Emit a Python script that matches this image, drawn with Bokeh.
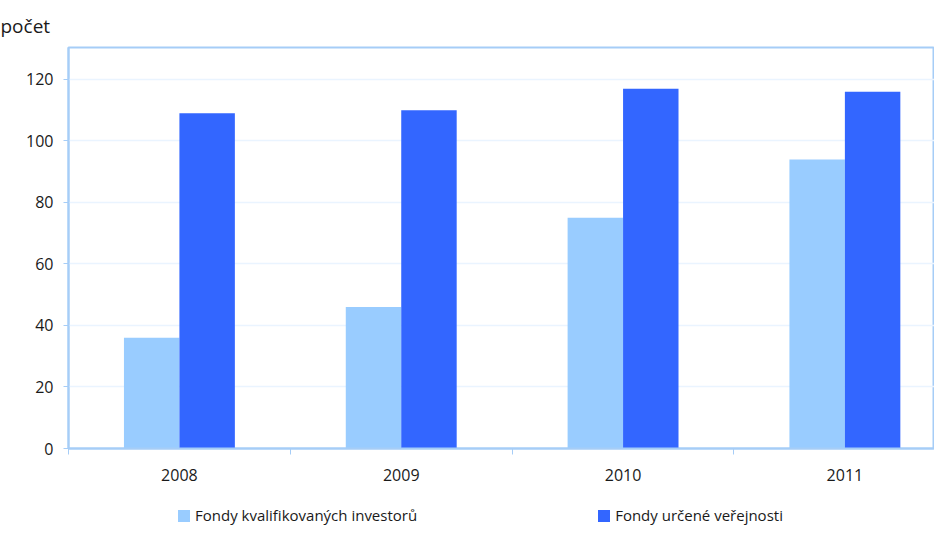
from bokeh.plotting import figure
from bokeh.layouts import column
from bokeh.models import (ColumnDataSource, Range1d, FixedTicker, Legend, LegendItem)
from bokeh.transform import dodge
from bokeh.embed import file_html
from bokeh.resources import INLINE

years = ["2008", "2009", "2010", "2011"]
kvalifikovani = [36, 46, 75, 94]
verejnost = [109, 110, 117, 116]
y_ticks = [0, 20, 40, 60, 80, 100, 120]
series_names = ["Fondy kvalifikovaných investorů", "Fondy určené veřejnosti"]
colors = ["#99ccff", "#3366ff"]

centers = [i + 0.5 for i in range(len(years))]
src = ColumnDataSource(dict(x=centers, a=kvalifikovani, b=verejnost))

FONT = "Open Sans"
AXIS_COL = "#a6cdf7"
GRID_COL = "#eaf4ff"

p = figure(width=934, height=485, output_backend="svg", toolbar_location=None,
           x_range=Range1d(0, 3.904), y_range=Range1d(0, 130.4),
           min_border_left=68, min_border_right=0, min_border_top=47,
           min_border_bottom=37)

p.vbar(x=dodge("x", -0.125), top="a", width=0.25, source=src,
       fill_color=colors[0], line_color=None)
p.vbar(x=dodge("x", 0.125), top="b", width=0.25, source=src,
       fill_color=colors[1], line_color=None)

p.title.text = "počet"
p.title.text_font = FONT
p.title.text_font_size = "19px"
p.title.text_font_style = "normal"
p.title.text_color = "#1a1a1a"
p.title.align = "left"
p.title.offset = -68
p.title.standoff = 18

p.outline_line_color = AXIS_COL
p.outline_line_width = 2

xa = p.xaxis[0]
xa.ticker = FixedTicker(ticks=centers, minor_ticks=list(range(len(years))))
xa.major_label_overrides = {c: y for c, y in zip(centers, years)}
xa.major_tick_out = 0
xa.major_tick_in = 0
xa.minor_tick_out = 6
xa.minor_tick_in = 0
xa.minor_tick_line_color = AXIS_COL
xa.axis_line_color = AXIS_COL
xa.axis_line_width = 2
xa.major_label_standoff = 14
xa.major_label_text_font = FONT
xa.major_label_text_font_size = "16px"
xa.major_label_text_color = "#1a1a1a"

ya = p.yaxis[0]
ya.ticker = FixedTicker(ticks=y_ticks)
ya.minor_tick_line_color = None
ya.major_tick_out = 5
ya.major_tick_in = 0
ya.major_tick_line_color = AXIS_COL
ya.axis_line_color = AXIS_COL
ya.axis_line_width = 2
ya.major_label_standoff = 10
ya.major_label_text_font = FONT
ya.major_label_text_font_size = "16px"
ya.major_label_text_color = "#1a1a1a"

p.xgrid.grid_line_color = None
p.ygrid.grid_line_color = GRID_COL
p.ygrid.grid_line_width = 1.5

# legend strip (same data, renderers hidden; only their legend swatches show)
lg = figure(width=934, height=40, output_backend="svg", toolbar_location=None,
            x_range=Range1d(0, 1), y_range=Range1d(0, 1),
            min_border_left=0, min_border_right=0, min_border_top=0,
            min_border_bottom=0)
lg.axis.visible = False
lg.grid.grid_line_color = None
lg.outline_line_color = None
k1 = lg.vbar(x="x", top="a", width=0.25, source=src, fill_color=colors[0],
             line_color=None, visible=False)
k2 = lg.vbar(x="x", top="b", width=0.25, source=src, fill_color=colors[1],
             line_color=None, visible=False)

legend = Legend(items=[LegendItem(label=series_names[0], renderers=[k1]),
                       LegendItem(label=series_names[1], renderers=[k2])],
                orientation="horizontal", location=(108, 0),
                spacing=179, padding=0, margin=0,
                glyph_width=15, glyph_height=15, label_standoff=4,
                label_text_font=FONT, label_text_font_size="15px",
                label_text_color="#1a1a1a",
                inactive_fill_alpha=0,
                border_line_color=None, background_fill_alpha=0)
lg.add_layout(legend, "center")

layout = column(p, lg, spacing=0)
open("out.html", "w").write(file_html(layout, INLINE))
